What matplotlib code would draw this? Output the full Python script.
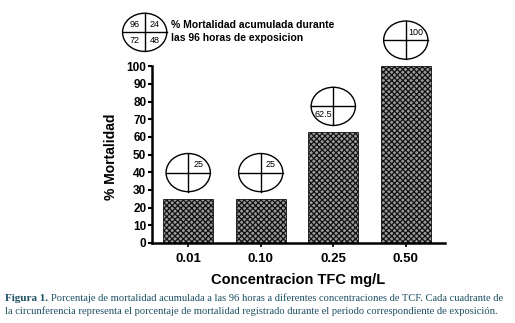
import matplotlib.pyplot as plt
from matplotlib.patches import Ellipse

# data
concentrations = ['0.01', '0.10', '0.25', '0.50']
mortality = [25, 25, 62.5, 100]
quadrant_hour = [24, 24, 72, 24]          # exposure hour where mortality was recorded
quadrant_text = ['25', '25', '62.5', '100']
legend_hours = [96, 24, 72, 48]

# quadrant position for each exposure hour (dx, dy sign)
quad_pos = {96: (-1, 1), 24: (1, 1), 72: (-1, -1), 48: (1, -1)}

plt.rcParams['font.family'] = ['Liberation Sans', 'DejaVu Sans']
plt.rcParams['hatch.linewidth'] = 0.9

fig = plt.figure(figsize=(5.15, 3.23), dpi=100)
ax = fig.add_axes([0.295, 0.248, 0.569, 0.70])

x = range(len(concentrations))
ax.bar(x, mortality, width=0.69, facecolor='#9a9a9a', edgecolor='#111111',
       hatch='xxxxxx', linewidth=0.6)

ax.set_xlim(-0.5, 3.54)
ax.set_ylim(0, 128)
ax.set_yticks(range(0, 101, 10))
ax.set_yticklabels([str(v) for v in range(0, 101, 10)], fontweight='bold', fontsize=8.5)
ax.set_xticks(list(x))
ax.set_xticklabels(concentrations, fontweight='bold', fontsize=9.5)
ax.spines['left'].set_bounds(0, 100)
ax.spines['top'].set_visible(False)
ax.spines['right'].set_visible(False)
for s in ['left', 'bottom']:
    ax.spines[s].set_linewidth(1.8)
ax.tick_params(axis='y', length=3, width=1.5, pad=1)
ax.tick_params(axis='x', length=3, width=1.2, pad=4)

ax.set_xlabel('Concentracion TFC mg/L', fontweight='bold', fontsize=10.5, labelpad=6)
ax.set_ylabel('% Mortalidad', fontweight='bold', fontsize=10, labelpad=6)
ax.yaxis.set_label_coords(-0.115, 0.38)

rx, ry = 0.305, 10.8


def quad_circle(cx, cy, texts):
    ax.add_patch(Ellipse((cx, cy), 2 * rx, 2 * ry, facecolor='white',
                         edgecolor='black', linewidth=1.0, clip_on=False))
    ax.plot([cx - rx, cx + rx], [cy, cy], color='black', lw=1.0, clip_on=False)
    ax.plot([cx, cx], [cy - ry, cy + ry], color='black', lw=1.0, clip_on=False)
    for hour, t in texts:
        sx, sy = quad_pos[hour]
        ax.text(cx + sx * rx * 0.45, cy + sy * ry * 0.42, t, fontsize=6.5,
                ha='center', va='center', clip_on=False)


for i, v in enumerate(mortality):
    quad_circle(i, v + 14.8, [(quadrant_hour[i], quadrant_text[i])])

# legend circle
quad_circle(-0.6, 119.2, [(h, str(h)) for h in legend_hours])
ax.text(-0.24, 119.5, '% Mortalidad acumulada durante\nlas 96 horas de exposicion',
        fontsize=7.5, fontweight='bold', ha='left', va='center', linespacing=1.35,
        clip_on=False)

# caption
cap_color = '#1d4f63'
fig.text(0.01, 0.068, 'Figura 1.', fontsize=8, fontweight='bold',
         family='Liberation Serif', color=cap_color)
fig.text(0.099, 0.068, 'Porcentaje de mortalidad acumulada a las 96 horas a diferentes '
         'concentraciones de TCF. Cada cuadrante de', fontsize=7.6,
         family='Liberation Serif', color=cap_color)
fig.text(0.01, 0.028, 'la circunferencia representa el porcentaje de mortalidad registrado '
         'durante el periodo correspondiente de exposición.', fontsize=7.6,
         family='Liberation Serif', color=cap_color)

fig.savefig('out.png', dpi=100)
